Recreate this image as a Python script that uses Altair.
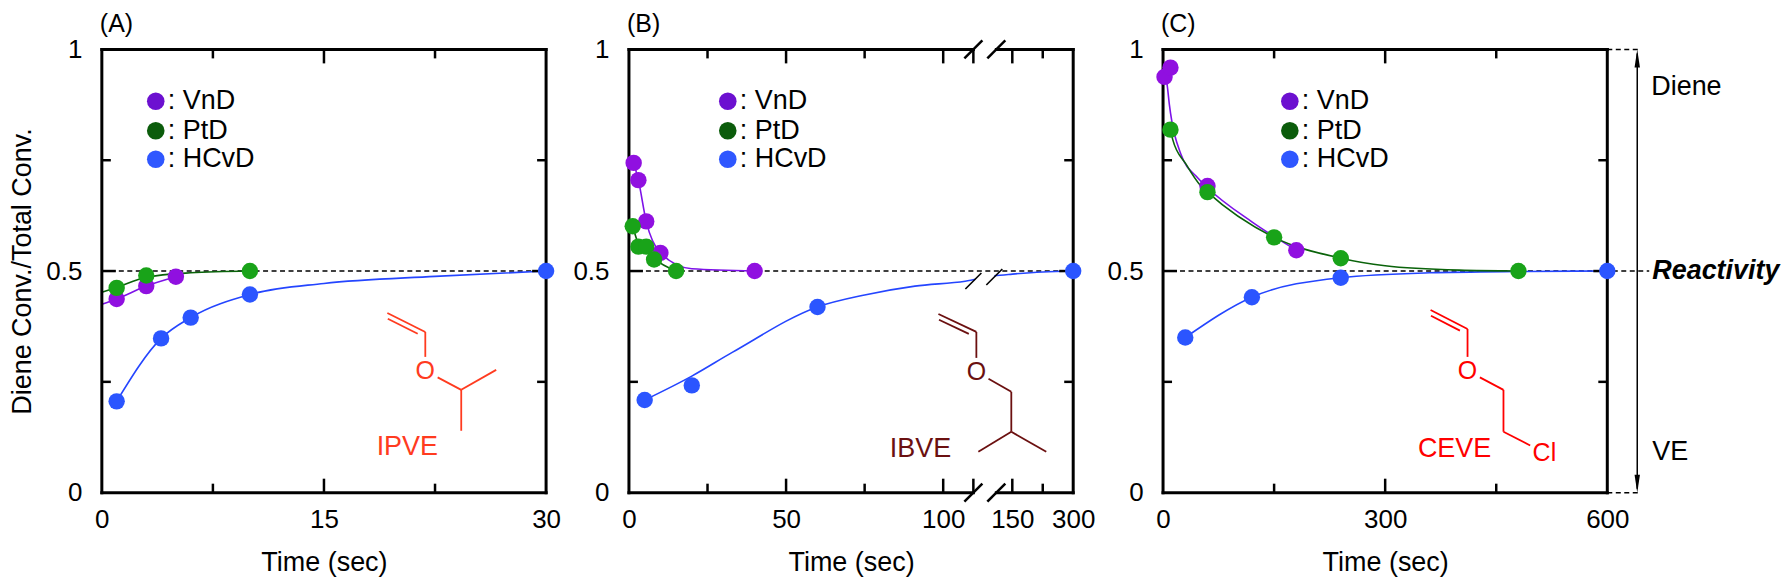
import altair as alt
import pandas as pd

SERIES = ["VnD", "PtD", "HCvD"]

A_VND_T = [1, 3, 5]
A_VND_V = [0.437, 0.466, 0.487]
A_PTD_T = [1, 3, 10]
A_PTD_V = [0.462, 0.490, 0.500]
A_HCVD_T = [1, 4, 6, 10, 30]
A_HCVD_V = [0.206, 0.348, 0.395, 0.447, 0.500]
A_VND_FIT_T = [0, 1, 3, 5]
A_VND_FIT_V = [0.425, 0.437, 0.466, 0.487]
A_PTD_FIT_T = [0, 1, 3, 6, 10]
A_PTD_FIT_V = [0.452, 0.463, 0.486, 0.496, 0.500]
A_HCVD_FIT_T = [1, 4, 6, 10, 15, 22.5, 30]
A_HCVD_FIT_V = [0.206, 0.348, 0.395, 0.447, 0.472, 0.488, 0.500]

# (B) IBVE, broken time axis
B_VND_T = [1.5, 3, 5.5, 10, 40]
B_VND_V = [0.744, 0.705, 0.612, 0.541, 0.500]
B_PTD_T = [1.2, 3, 5.5, 8, 15]
B_PTD_V = [0.601, 0.555, 0.555, 0.526, 0.500]
B_HCVD_T = [5, 20, 60, 300]
B_HCVD_V = [0.209, 0.242, 0.419, 0.500]
B_VND_FIT_T = [1.5, 3, 5.5, 10, 20, 40]
B_VND_FIT_V = [0.744, 0.705, 0.612, 0.541, 0.505, 0.500]
B_PTD_FIT_T = [1.2, 3, 5.5, 8, 15]
B_PTD_FIT_V = [0.601, 0.562, 0.545, 0.528, 0.500]
B_HCVD_FIT_T = [5, 20, 33, 60, 75, 91, 107, 131, 150, 225, 300]
B_HCVD_FIT_V = [0.209, 0.263, 0.317, 0.419, 0.446, 0.466, 0.477, 0.489, 0.493, 0.498, 0.500]

# (C) CEVE
C_VND_T = [2, 10, 60, 180]
C_VND_V = [0.938, 0.959, 0.692, 0.547]
C_PTD_T = [10, 60, 150, 240, 480]
C_PTD_V = [0.819, 0.678, 0.576, 0.529, 0.500]
C_HCVD_T = [30, 120, 240, 600]
C_HCVD_V = [0.350, 0.441, 0.485, 0.500]
C_VND_FIT_T = [1.8, 5.4, 8.5, 24, 47, 60, 120, 180]
C_VND_FIT_V = [0.940, 0.921, 0.876, 0.764, 0.710, 0.688, 0.611, 0.547]
C_PTD_FIT_T = [10, 13, 31, 51, 60, 150, 240, 300, 400, 480]
C_PTD_FIT_V = [0.819, 0.797, 0.741, 0.692, 0.678, 0.576, 0.529, 0.512, 0.502, 0.500]
C_HCVD_FIT_T = [30, 120, 240, 360, 480, 600]
C_HCVD_FIT_V = [0.350, 0.441, 0.485, 0.496, 0.499, 0.500]

# axis ticks / labels
A_LABELS, A_MAJOR, A_MINOR = [0, 15, 30], [15], [7.5, 22.5]
B_LABELS, B_MAJOR, B_MINOR = [0, 50, 100, 150, 300], [50, 100, 109.6, 150], [25, 75, 225]
C_LABELS, C_MAJOR, C_MINOR = [0, 300, 600], [300], [150, 450]
B_BREAK = [0, 109.6, 150, 300]
Y_LABELS, Y_MAJOR, Y_MINOR = [0, 0.5, 1], [0.5], [0.25, 0.75]

FONT = "Liberation Sans"
W, H = 445, 444
MAJOR_TICK, MINOR_TICK = 14, 9
DOT = {"VnD": "#9010e0", "PtD": "#19a319", "HCvD": "#2b55ff"}
LINE = {"VnD": "#7d12e8", "PtD": "#0a630a", "HCvD": "#2445ff"}
KEY = {"VnD": "#6c10d0", "PtD": "#0b5c0b", "HCvD": "#2f57ff"}
DRAW_ORDER = ["HCvD", "VnD", "PtD"]
Y_SCALE = alt.Scale(domain=[0, 1], nice=False, zero=False)


def series_table(ts, vs):
    rows = []
    for name in DRAW_ORDER:
        i = SERIES.index(name)
        rows += [{"series": name, "t": t, "v": v, "dot": DOT[name], "line": LINE[name]}
                 for t, v in zip(ts[i], vs[i])]
    return pd.DataFrame(rows)


def segments(rows, colour="black", width=2.0, cap="butt", dash=None):
    df = pd.DataFrame(rows, columns=["px", "py", "px2", "py2"])
    kw = {"strokeDash": dash} if dash else {}
    return alt.Chart(df).mark_rule(color=colour, strokeWidth=width, strokeCap=cap, **kw).encode(
        x=alt.X("px:Q", scale=None), y=alt.Y("py:Q", scale=None),
        x2="px2:Q", y2="py2:Q")


def texts(rows, colour="black", size=26, align="center", **kw):
    df = pd.DataFrame(rows, columns=["px", "py", "text"])
    return alt.Chart(df).mark_text(color=colour, fontSize=size, font=FONT, align=align,
                                   baseline="middle", **kw).encode(
        x=alt.X("px:Q", scale=None), y=alt.Y("py:Q", scale=None), text="text:N")


def bond(p, q, trim_p=0.0, trim_q=0.0):
    (x1, y1), (x2, y2) = p, q
    n = ((x2 - x1) ** 2 + (y2 - y1) ** 2) ** 0.5
    ux, uy = (x2 - x1) / n, (y2 - y1) / n
    return (x1 + ux * trim_p, y1 + uy * trim_p, x2 - ux * trim_q, y2 - uy * trim_q), (ux, uy)


def molecule(atoms, bonds, name, colour):
    hetero = [a for a in atoms if a in ("O", "Cl")]
    segs = []
    for a, b, order in bonds:
        tp = 14 if a in hetero else 0
        tq = (16 if b == "Cl" else 14) if b in hetero else 0
        seg, (ux, uy) = bond(atoms[a], atoms[b], tp, tq)
        segs.append(seg)
        if order == 2:
            ox, oy = -uy * 5, ux * 5
            segs.append((seg[0] + ox + ux * 3, seg[1] + oy + uy * 3,
                         seg[2] + ox - ux * 6, seg[3] + oy - uy * 6))
    return [segments(segs, colour, 1.8),
            texts([(atoms[h][0], atoms[h][1], h) for h in hetero], colour, 25),
            texts([name], colour, 27)]


def key_layers(x0):
    df = pd.DataFrame({"series": SERIES, "px": [x0] * 3, "py": [52, 81.5, 110],
                       "c": [KEY[s] for s in SERIES]})
    df["tx"] = x0 + 12
    df["label"] = [": " + s for s in SERIES]
    dots = alt.Chart(df).mark_circle(size=310, opacity=1).encode(
        x=alt.X("px:Q", scale=None), y=alt.Y("py:Q", scale=None),
        color=alt.Color("c:N", scale=None))
    lab = alt.Chart(df).mark_text(fontSize=27, font=FONT, align="left", baseline="middle",
                                  color="black").encode(
        x=alt.X("tx:Q", scale=None), y=alt.Y("py:Q", scale=None), text="label:N")
    return [dots, lab]


RECT = [(0, 0, W, 0), (0, H, W, H), (0, 0, 0, H), (W, 0, W, H)]


def panel(letter, pts, fits, xs, labels, major, minor, key_x, mol, frame, ref_end=W,
          y_title=None, under=(), over=(), width=W):
    df = series_table(*pts)
    fit = series_table(*fits)
    x_axis = alt.Axis(values=labels, format="d", ticks=False, domain=False, grid=False,
                      labelFlush=False, labelOverlap=False, labelPadding=14, titlePadding=17)
    y_axis = alt.Axis(values=Y_LABELS, format=".1~f", ticks=False, domain=False, grid=False,
                      labelFlush=False, labelOverlap=False, labelPadding=20, titlePadding=9)

    def X(field):
        return alt.X(field, scale=xs, axis=x_axis, title="Time (sec)")

    def Y(field):
        return alt.Y(field, scale=Y_SCALE, axis=y_axis, title=y_title)

    ref = alt.Chart(pd.DataFrame({"v": [0.5]})).mark_rule(
        color="black", strokeWidth=1.5, strokeDash=[5, 3.5]).encode(
        y=Y("v:Q"), x=alt.value(0), x2=alt.value(ref_end))
    lines = alt.Chart(fit).mark_line(interpolate="monotone", strokeWidth=1.6).encode(
        x=X("t:Q"), y=Y("v:Q"), color=alt.Color("line:N", scale=None), detail="series:N")
    dots = alt.Chart(df).mark_circle(size=270, opacity=1).encode(
        x=X("t:Q"), y=Y("v:Q"), color=alt.Color("dot:N", scale=None))

    ticks = []
    for vals, L in ((major, MAJOR_TICK), (minor, MINOR_TICK)):
        base = alt.Chart(pd.DataFrame({"t": vals})).mark_rule(color="black", strokeWidth=2.5)
        ticks.append(base.encode(x=X("t:Q"), y=alt.value(0), y2=alt.value(L)))
        ticks.append(base.encode(x=X("t:Q"), y=alt.value(H), y2=alt.value(H - L)))
    for vals, L in ((Y_MAJOR, MAJOR_TICK), (Y_MINOR, MINOR_TICK)):
        base = alt.Chart(pd.DataFrame({"v": vals})).mark_rule(color="black", strokeWidth=2.5)
        ticks.append(base.encode(y=Y("v:Q"), x=alt.value(0), x2=alt.value(L)))
        ticks.append(base.encode(y=Y("v:Q"), x=alt.value(W), x2=alt.value(W - L)))

    tag = texts([(-2, -25, letter)], size=25, align="left")
    layers = ([dots.mark_circle(size=270, opacity=0), ref, lines] + list(under) + ticks + frame
              + list(over) + mol + key_layers(key_x) + [dots, tag])
    return alt.layer(*layers).properties(width=width, height=H)


# panel A
xa = alt.Scale(domain=[0, 30], range=[0, W], nice=False, zero=False)
ipve = molecule({"C1": (286, 264), "C2": (324, 283), "O": (324, 322), "C3": (360, 341),
                 "C4": (395, 321), "C5": (360, 382)},
                [("C1", "C2", 2), ("C2", "O", 1), ("O", "C3", 1), ("C3", "C4", 1), ("C3", "C5", 1)],
                (306, 398, "IPVE"), "#ff3b1f")
pa = panel("(A)",
           ([A_VND_T, A_PTD_T, A_HCVD_T], [A_VND_V, A_PTD_V, A_HCVD_V]),
           ([A_VND_FIT_T, A_PTD_FIT_T, A_HCVD_FIT_T], [A_VND_FIT_V, A_PTD_FIT_V, A_HCVD_FIT_V]),
           xa, A_LABELS, A_MAJOR, A_MINOR, 54, ipve, [segments(RECT, width=3, cap="square")],
           y_title="Diene Conv./Total Conv.")

# panel B with broken axis
xb = alt.Scale(domain=B_BREAK, range=[0, 345, 384, W], nice=False, zero=False)
ibve = molecule({"C1": (310, 265), "C2": (348, 283), "O": (348, 323), "C3": (383, 343),
                 "C4": (383, 383), "C5": (350, 403), "C6": (418, 403)},
                [("C1", "C2", 2), ("C2", "O", 1), ("O", "C3", 1), ("C3", "C4", 1),
                 ("C4", "C5", 1), ("C4", "C6", 1)],
                (292, 400, "IBVE"), "#6b1010")
b_frame = [
    segments([(0, 0, 345, 0), (368, 0, W, 0), (0, H, 345, H), (368, H, W, H),
              (0, 0, 0, H), (W, 0, W, H)], width=3, cap="square"),
    segments([(x - 9, y + 9, x + 9, y - 9) for x in (345, 368) for y in (0, H)], width=2.5),
]
b_mask = [alt.Chart(pd.DataFrame({"px": [347], "px2": [366], "py": [224], "py2": [252]})).mark_rect(
    color="white", opacity=1).encode(
    x=alt.X("px:Q", scale=None), x2="px2:Q", y=alt.Y("py:Q", scale=None), y2="py2:Q")]
b_cut = [segments([(345 - 8, 232 + 8, 345 + 8, 232 - 8), (366 - 8, 228 + 8, 366 + 8, 228 - 8)],
                  width=1.6)]
pb = panel("(B)",
           ([B_VND_T, B_PTD_T, B_HCVD_T], [B_VND_V, B_PTD_V, B_HCVD_V]),
           ([B_VND_FIT_T, B_PTD_FIT_T, B_HCVD_FIT_T], [B_VND_FIT_V, B_PTD_FIT_V, B_HCVD_FIT_V]),
           xb, B_LABELS, B_MAJOR, B_MINOR, 99, ibve, b_frame, under=b_mask + b_cut, width=W + 7)

# panel C with side notes
xc = alt.Scale(domain=[0, 600], range=[0, W], nice=False, zero=False)
ceve = molecule({"C1": (268, 261), "C2": (305, 280), "O": (305, 322), "C3": (341, 341),
                 "C4": (341, 383), "Cl": (382, 404)},
                [("C1", "C2", 2), ("C2", "O", 1), ("O", "C3", 1), ("C3", "C4", 1), ("C4", "Cl", 1)],
                (292, 400, "CEVE"), "#ff0000")
arrow_x = 475
heads = alt.Chart(pd.DataFrame({"px": [arrow_x, arrow_x], "py": [9, H - 9],
                                "s": ["M0,-1L0.3,1L-0.3,1Z", "M0,1L0.3,-1L-0.3,-1Z"]})).mark_point(
    filled=True, size=324, opacity=1, color="black").encode(
    x=alt.X("px:Q", scale=None), y=alt.Y("py:Q", scale=None),
    shape=alt.Shape("s:N", scale=None))
side = [
    segments([(W, 0, arrow_x + 4, 0), (W, H, arrow_x + 4, H)], width=1.5, dash=[5, 3.5]),
    segments([(arrow_x, 4, arrow_x, H - 4)], width=1.5),
    heads,
    texts([(489, 38, "Diene"), (490, 403, "VE")], size=27, align="left"),
    texts([(490, 222, "Reactivity")], size=27, align="left", fontWeight="bold", fontStyle="italic"),
]
pc = panel("(C)",
           ([C_VND_T, C_PTD_T, C_HCVD_T], [C_VND_V, C_PTD_V, C_HCVD_V]),
           ([C_VND_FIT_T, C_PTD_FIT_T, C_HCVD_FIT_T], [C_VND_FIT_V, C_PTD_FIT_V, C_HCVD_FIT_V]),
           xc, C_LABELS, C_MAJOR, C_MINOR, 127, ceve, [segments(RECT, width=3, cap="square")],
           ref_end=487, over=side)

chart = alt.hconcat(pa, pb, pc, spacing=83, bounds="flush").properties(
    padding={"left": 0, "top": 3, "right": 2, "bottom": 0}
).configure_view(stroke="transparent").configure_axis(
    labelFont=FONT, titleFont=FONT, labelColor="black", titleColor="black",
    labelFontSize=26, titleFontSize=27, titleFontWeight="normal")

chart.save("out.html", embed_options={"renderer": "svg", "actions": False})
